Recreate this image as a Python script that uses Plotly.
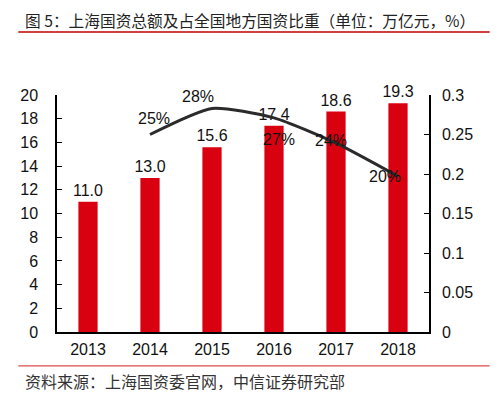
import plotly.graph_objects as go

years = ["2013", "2014", "2015", "2016", "2017", "2018"]
total = [11.0, 13.0, 15.6, 17.4, 18.6, 19.3]
share_years = ["2014", "2015", "2016", "2017", "2018"]
share = [0.25, 0.283, 0.271, 0.239, 0.197]
share_labels = ["25%", "28%", "27%", "24%", "20%"]
left_ticks = [0, 2, 4, 6, 8, 10, 12, 14, 16, 18, 20]
right_ticks = [0, 0.05, 0.1, 0.15, 0.2, 0.25, 0.3]
right_tick_text = ["0", "0.05", "0.1", "0.15", "0.2", "0.25", "0.3"]

FONT = "Liberation Sans, Arial, Noto Sans CJK SC"
CJK = "Noto Sans CJK SC, Liberation Sans"

fig = go.Figure()
fig.add_trace(go.Bar(
    x=years, y=total, marker=dict(color="#d9000f", line=dict(width=0)),
    text=[f"{v:.1f}" for v in total], textposition="outside", constraintext="none",
    textfont=dict(size=16, color="#111", family=FONT), cliponaxis=False,
    yaxis="y", showlegend=False,
))
fig.add_trace(go.Scatter(
    x=share_years, y=share, mode="lines", line=dict(color="#2b2b2b", width=3, shape="spline", smoothing=0.6),
    yaxis="y2", showlegend=False, cliponaxis=False,
))

shifts = [(4, 16), (-14, 12), (5, -22), (-5, 3), (-13, 0)]
for xv, yv, t, (dx, dy) in zip(share_years, share, share_labels, shifts):
    fig.add_annotation(x=years.index(xv), y=yv, xref="x", yref="y2", text=t, showarrow=False,
                       xshift=dx, yshift=dy, font=dict(size=16, color="#111", family=FONT))

fig.add_annotation(xref="paper", yref="paper", x=-0.0907, y=1.316, xanchor="left", yanchor="middle",
                   text="图 5：上海国资总额及占全国地方国资比重（单位：万亿元，%）", showarrow=False,
                   font=dict(size=15.7, color="#222", family=CJK))
fig.add_annotation(xref="paper", yref="paper", x=-0.0907, y=-0.207, xanchor="left", yanchor="middle",
                   text="资料来源：上海国资委官网，中信证券研究部", showarrow=False,
                   font=dict(size=16, color="#333", family=CJK))
fig.add_shape(type="line", xref="paper", yref="paper", x0=-0.104, x1=1.163, y0=1.266, y1=1.266,
              line=dict(color="#c00000", width=1.5))
fig.add_shape(type="line", xref="paper", yref="paper", x0=-0.104, x1=1.163, y0=-0.143, y1=-0.143,
              line=dict(color="#d02020", width=1))

fig.update_layout(
    width=499, height=397,
    margin=dict(l=46, r=78, t=87, b=73),
    paper_bgcolor="white", plot_bgcolor="white",
    bargap=0.69,
    font=dict(family=FONT, size=16, color="#111"),
    xaxis=dict(type="category", range=[-0.5, 5.5], showline=True, linecolor="#000", linewidth=1.5, ticks="",
               showgrid=False, tickfont=dict(size=16), ticklabelstandoff=2),
    yaxis=dict(range=[0, 20], tickvals=left_ticks, showline=True, linecolor="#000", linewidth=1.5,
               ticks="inside", ticklen=5, tickcolor="#000", showgrid=False, zeroline=False,
               tickfont=dict(size=16), ticklabelstandoff=14),
    yaxis2=dict(range=[0, 0.3], tickvals=right_ticks, ticktext=right_tick_text, overlaying="y", side="right",
                showline=True, linecolor="#000", linewidth=1.5, ticks="inside", ticklen=5, tickcolor="#000",
                showgrid=False, zeroline=False, tickfont=dict(size=16), ticklabelstandoff=8),
)

fig.write_html("out.html")
